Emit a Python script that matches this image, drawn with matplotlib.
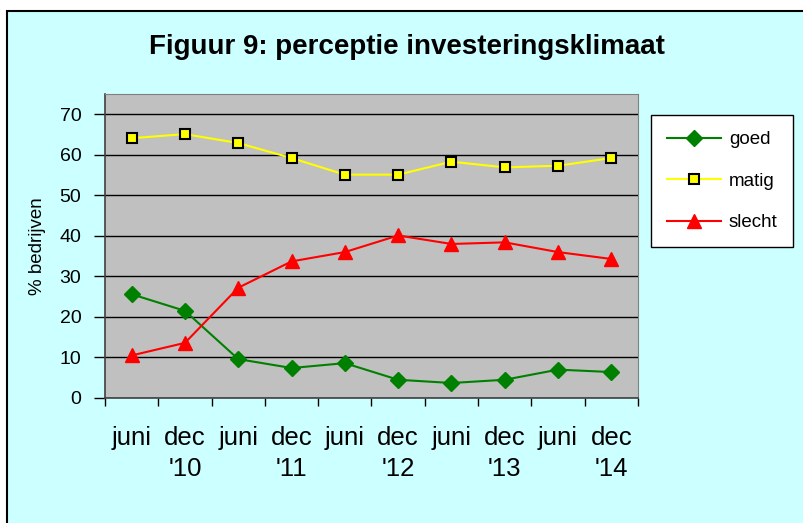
import matplotlib
matplotlib.use("Agg")
import matplotlib.pyplot as plt
from matplotlib.patches import Rectangle

# ---- data ----
periods = ["juni", "dec\n'10", "juni", "dec\n'11", "juni",
           "dec\n'12", "juni", "dec\n'13", "juni", "dec\n'14"]
goed = [25.6, 21.5, 9.6, 7.4, 8.6, 4.5, 3.7, 4.5, 7.0, 6.4]
matig = [64.1, 65.1, 62.9, 59.2, 55.1, 55.1, 58.3, 56.9, 57.3, 59.2]
slecht = [10.5, 13.6, 27.2, 33.7, 36.0, 40.1, 38.0, 38.4, 36.0, 34.3]
yticks = [0, 10, 20, 30, 40, 50, 60, 70]

plt.rcParams['font.family'] = ['Liberation Sans', 'DejaVu Sans']

W, H = 804, 523
fig = plt.figure(figsize=(W / 100, H / 100), dpi=100)
fig.patch.set_facecolor("white")

# chart area background with black frame
fig.patches.append(Rectangle((7 / W, -0.02), 1.0, (H - 11) / H + 0.02,
                             transform=fig.transFigure, facecolor="#CCFFFF",
                             edgecolor="black", linewidth=1.5, zorder=-5))

ax = fig.add_axes([105 / W, (H - 398) / H, 533 / W, (398 - 94) / H])
ax.set_facecolor("#C0C0C0")

x = list(range(len(periods)))
ax.plot(x, goed, color="#008000", lw=1.5, marker="D", ms=8.5,
        mfc="#008000", mec="#008000", label="goed", zorder=3)
ax.plot(x, matig, color="#FFFF00", lw=1.5, marker="s", ms=7,
        mfc="#FFFF00", mec="black", mew=1.5, label="matig", zorder=3)
ax.plot(x, slecht, color="#FF0000", lw=1.5, marker="^", ms=9.5,
        mfc="#FF0000", mec="#FF0000", label="slecht", zorder=3)

ax.set_xlim(-0.5, len(periods) - 0.5)
ax.set_ylim(0, 75)
ax.set_yticks(yticks)
ax.tick_params(axis="y", labelsize=14, length=8, width=1, pad=9)
ax.yaxis.grid(True, color="black", lw=1)
ax.set_axisbelow(True)

ax.set_xticks([i - 0.5 for i in range(len(periods) + 1)])
ax.set_xticklabels([])
ax.set_xticks(x, minor=True)
ax.set_xticklabels(periods, minor=True, fontsize=18.5, linespacing=1.4)
ax.tick_params(axis="x", which="major", length=6, width=1)
ax.tick_params(axis="x", which="minor", length=0, pad=20)

for s in ["top", "right"]:
    ax.spines[s].set_color("#808080")
for s in ["left", "bottom"]:
    ax.spines[s].set_color("#404040")
    ax.spines[s].set_linewidth(1.2)

ax.set_ylabel("% bedrijven", fontsize=13.5)
ax.yaxis.set_label_coords(-0.11, 0.5)

fig.text(407 / W, 1 - 47 / H, "Figuur 9: perceptie investeringsklimaat",
         ha="center", va="center", fontsize=20, fontweight="bold")

leg = fig.legend(loc="upper left", bbox_to_anchor=(651 / W, 1 - 115 / H),
                 frameon=True, fancybox=False, edgecolor="black",
                 facecolor="white", framealpha=1, fontsize=13.5,
                 handlelength=2.9, handletextpad=0.4, labelspacing=1.3,
                 borderpad=0.85, borderaxespad=0)
leg.get_frame().set_linewidth(1)

fig.savefig("out.png", dpi=100)
